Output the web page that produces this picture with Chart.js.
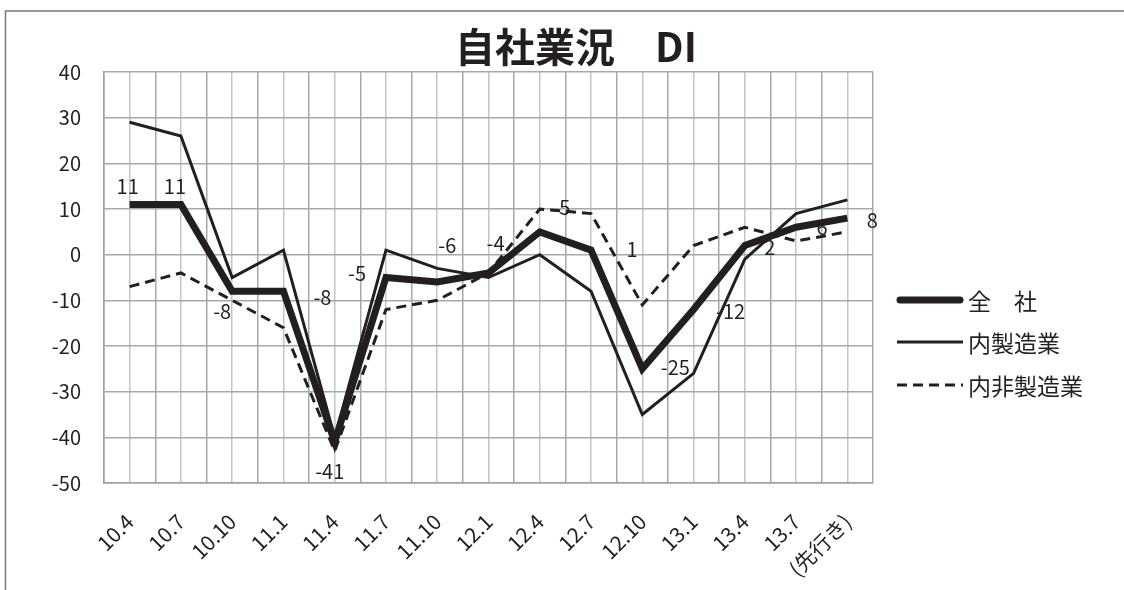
<!DOCTYPE html>
<html>
<head>
<meta charset="utf-8">
<script src="https://cdn.jsdelivr.net/npm/chart.js@4/dist/chart.umd.min.js"></script>
<style>
  html, body { margin: 0; padding: 0; background: #fff; }
  #wrap { width: 1124px; height: 590px; }
</style>
</head>
<body>
<div id="wrap"><canvas id="c" width="1124" height="590"></canvas></div>
<script>
// chart data
const periods = ['10.4', '10.7', '10.10', '11.1', '11.4', '11.7', '11.10', '12.1', '12.4', '12.7', '12.10', '13.1', '13.4', '13.7', '(先行き)'];
const allCompanies = [11, 11, -8, -8, -41, -5, -6, -4, 5, 1, -25, -12, 2, 6, 8];
const manufacturing = [29, 26, -5, 1, -40, 1, -3, -5, 0, -8, -35, -26, -1, 9, 12];
const nonManufacturing = [-7, -4, -10, -16, -43, -12, -10, -4, 10, 9, -11, 2, 6, 3, 5];
const yTicks = [40, 30, 20, 10, 0, -10, -20, -30, -40, -50];

const seriesNames = ['全　社', '内製造業', '内非製造業'];
const chartTitle = '自社業況　DI';

// where each 全社 value label sits relative to its point (px)
const labelOffsets = [[-2, -18], [-6, -18], [-10, 20], [39, 6], [-5, 30], [-29, -4], [10, -37], [7, -30],
  [25, -24], [41, -1], [33, -1], [37, 2], [25, 2], [26, 0], [25, 2]];

const INK = '#231f20';
const FONT = '"Noto Sans CJK JP", "Noto Sans", sans-serif';

const decorPlugin = {
    id: 'decor',
    beforeDraw(chart) {
        const ctx = chart.ctx;
        ctx.save();
        ctx.fillStyle = '#fff';
        ctx.fillRect(0, 0, chart.width, chart.height);
        ctx.strokeStyle = '#777';
        ctx.lineWidth = 1.5;
        ctx.strokeRect(5.5, 11, 1300, 800);
        ctx.restore();
    },
    afterDraw(chart) {
        const ctx = chart.ctx;
        ctx.save();
        // title
        ctx.fillStyle = INK;
        ctx.font = 'bold 40px ' + FONT;
        ctx.textAlign = 'center';
        ctx.textBaseline = 'middle';
        ctx.fillText(chartTitle, 576, 47);

        // value labels for 全社
        const meta = chart.getDatasetMeta(0);
        ctx.font = '20px ' + FONT;
        ctx.fillStyle = INK;
        meta.data.forEach((pt, i) => {
            const off = labelOffsets[i];
            ctx.fillText(String(allCompanies[i]), pt.x + off[0], pt.y + off[1]);
        });

        // legend
        const rows = [300, 342, 385];
        chart.data.datasets.forEach((ds, i) => {
            ctx.beginPath();
            ctx.strokeStyle = ds.borderColor;
            ctx.lineWidth = ds.borderWidth;
            ctx.lineCap = i === 0 ? 'round' : 'butt';
            ctx.setLineDash(ds.borderDash || []);
            ctx.moveTo(i === 0 ? 900 : 897, rows[i]);
            ctx.lineTo(i === 0 ? 960 : 963, rows[i]);
            ctx.stroke();
            ctx.setLineDash([]);
            ctx.font = '23px ' + FONT;
            ctx.textAlign = 'left';
            ctx.textBaseline = 'middle';
            ctx.fillText(seriesNames[i], 968, rows[i] + 1);
        });
        ctx.restore();
    }
};

new Chart(document.getElementById('c'), {
    type: 'line',
    data: {
        labels: periods,
        datasets: [
            { label: seriesNames[0], data: allCompanies, borderColor: INK, borderWidth: 7, pointRadius: 0, tension: 0, order: 0 },
            { label: seriesNames[1], data: manufacturing, borderColor: INK, borderWidth: 3, pointRadius: 0, tension: 0, order: 1 },
            { label: seriesNames[2], data: nonManufacturing, borderColor: INK, borderWidth: 3, borderDash: [10, 6], pointRadius: 0, tension: 0, order: 2 }
        ]
    },
    options: {
        responsive: false,
        animation: false,
        devicePixelRatio: 1,
        layout: { padding: { top: 72, right: 251, left: 0, bottom: 0 } },
        plugins: { legend: { display: false }, tooltip: { enabled: false }, title: { display: false } },
        scales: {
            x2: {
                type: 'category',
                position: 'bottom',
                offset: true,
                grid: { offset: false, color: '#c4c4c4', lineWidth: 1.5, drawTicks: false },
                border: { display: false },
                ticks: { display: false },
                afterFit: s => { s.height = 0; }
            },
            x: {
                offset: true,
                grid: { offset: true, color: '#a8a8a8', lineWidth: 1.5, drawTicks: false },
                border: { color: '#a0a0a0', width: 1.5 },
                ticks: { autoSkip: false, minRotation: 45, maxRotation: 45, padding: 26, color: INK, font: { family: FONT, size: 21 } },
                afterFit: s => { s.height = 107; }
            },
            y: {
                min: -50, max: 40,
                afterBuildTicks: s => { s.ticks = yTicks.map(v => ({ value: v })); },
                grid: { color: '#a8a8a8', lineWidth: 1.5, drawTicks: false },
                border: { color: '#a0a0a0', width: 1.5 },
                ticks: { padding: 23, color: INK, font: { family: FONT, size: 20 } },
                afterFit: s => { s.width = 104; }
            }
        }
    },
    plugins: [decorPlugin]
});
</script>
</body>
</html>
